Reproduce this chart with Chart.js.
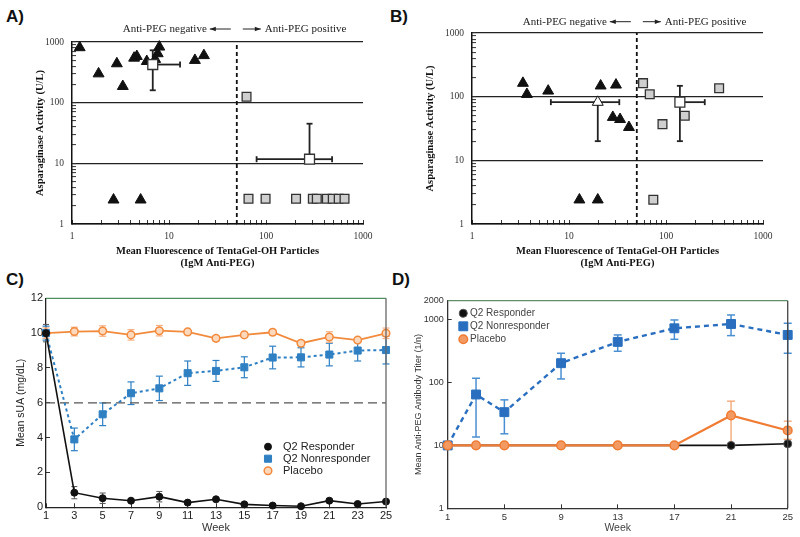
<!DOCTYPE html>
<html>
<head>
<meta charset="utf-8">
<script src="https://cdn.jsdelivr.net/npm/chart.js@4.4.1/dist/chart.umd.min.js"></script>
<style>
body{margin:0;background:#fff;width:800px;height:537px;position:relative;overflow:hidden;}
canvas{position:absolute;}
.lab{position:absolute;font:bold 17px "Liberation Sans",Arial,sans-serif;line-height:17px;color:#111;}
</style>
</head>
<body>
<div class="lab" style="left:6px;top:8px">A)</div>
<div class="lab" style="left:390px;top:8px">B)</div>
<div class="lab" style="left:6px;top:271px">C)</div>
<div class="lab" style="left:392px;top:271px">D)</div>
<canvas id="cA" width="400" height="280" style="left:0;top:0"></canvas>
<canvas id="cB" width="400" height="280" style="left:400px;top:0"></canvas>
<canvas id="cC" width="400" height="257" style="left:0;top:280px"></canvas>
<canvas id="cD" width="400" height="257" style="left:400px;top:280px"></canvas>
<script>
// ---------- data: panels A & B (x = mean fluorescence, y = asparaginase activity) ----------
var cutoff = 50; // anti-PEG positive threshold
var noteNeg = 'Anti-PEG negative';
var notePos = 'Anti-PEG positive';
var logTicksAB = [1, 10, 100, 1000];

var aNegX = [1.2, 1.88, 2.9, 3.34, 4.37, 4.66, 5.9, 7.95, 7.65, 7.2, 18.5, 22.9, 2.68, 5.1];
var aNegY = [810, 300, 440, 186, 545, 580, 480, 830, 645, 520, 500, 600, 2.5, 2.5];
var aPosX = [63, 66, 99, 204, 304, 334, 424, 488, 562, 645];
var aPosY = [125, 2.6, 2.6, 2.6, 2.6, 2.6, 2.6, 2.6, 2.6, 2.6];
var aMeanX = [6.8, 281];
var aMeanY = [425, 11.7];
var aMeanXLo = [null, 80];
var aMeanXHi = [13, 480];
var aMeanYLo = [160, null];
var aMeanYHi = [730, 45];

var bNegX = [3.35, 3.68, 6.1, 21.2, 30.5, 28.3, 33.6, 41.5, 12.8, 19.8];
var bNegY = [163, 109, 123, 148, 153, 47.5, 44, 33, 2.4, 2.4];
var bPosX = [58, 68, 92, 156, 74, 353];
var bPosY = [163, 109, 37, 50, 2.4, 136];
var bNegMeanX = [19.8], bNegMeanY = [82];
var bNegMeanXLo = [6.5], bNegMeanXHi = [33], bNegMeanYLo = [20], bNegMeanYHi = [null];
var bPosMeanX = [139], bPosMeanY = [82];
var bPosMeanXLo = [null], bPosMeanXHi = [251], bPosMeanYLo = [20], bPosMeanYHi = [148];

// ---------- data: panel C (mean sUA by week) ----------
var cWeeks = [1, 3, 5, 7, 9, 11, 13, 15, 17, 19, 21, 23, 25];
var cYTicks = [0, 2, 4, 6, 8, 10, 12];
var cTarget = 6;
var cResp = [10, 0.84, 0.52, 0.38, 0.61, 0.27, 0.46, 0.17, 0.1, 0.06, 0.38, 0.19, 0.33];
var cRespErr = [0.5, 0.35, 0.3, 0.1, 0.3, 0.1, 0.1, 0.05, 0.05, 0.05, 0.1, 0.05, 0.1];
var cNon = [10, 3.9, 5.34, 6.55, 6.83, 7.7, 7.83, 8.04, 8.6, 8.61, 8.77, 9.0, 9.03];
var cNonErr = [0.4, 0.65, 0.65, 0.65, 0.7, 0.7, 0.6, 0.6, 0.65, 0.55, 0.65, 0.6, 0.8];
var cPla = [10, 10.09, 10.12, 9.9, 10.14, 10.07, 9.7, 9.9, 10.05, 9.42, 9.78, 9.6, 9.99];
var cPlaErr = [0.3, 0.25, 0.3, 0.3, 0.3, 0.15, 0.15, 0.15, 0.15, 0.15, 0.3, 0.15, 0.3];

// ---------- data: panel D (anti-PEG titer by week) ----------
var dWeeks = [1, 3, 5, 9, 13, 17, 21, 25];
var dXTicks = [1, 5, 9, 13, 17, 21, 25];
var dYTicks = [1, 10, 100, 1000, 2000];
var dResp = [10, 10, 10, 10, 10, 10, 10, 10.6];
var dNon = [10, 64.5, 33.8, 203, 443, 728, 853, 571];
var dNonLo = [null, 13.6, 15.3, 114, 314, 487, 557, 292];
var dNonHi = [null, 117, 53, 292, 571, 988, 1186, 875];
var dPla = [10, 10, 10, 10, 10, 10, 30, 17.3];
var dPlaLo = [null, null, null, null, null, null, 10, 12.5];
var dPlaHi = [null, null, null, null, null, null, 50.6, 24.3];

var seriesNames = ['Q2 Responder', 'Q2 Nonresponder', 'Placebo'];

// ---------- looks ----------
var serif = '"Liberation Serif", "Times New Roman", serif';
var sans = '"Liberation Sans", Arial, Helvetica, sans-serif';
var blueC = '#2f80c3', orangeC = '#f28a3c';
var blueD = '#2a6fbf', orangeD = '#f07c34';

function pts(xs, ys) { return xs.map(function (x, i) { return {x: x, y: ys[i]}; }); }
function isDecade(v) { var l = Math.log10(v); return Math.abs(l - Math.round(l)) < 1e-9; }
// 1,2,..9,10,20,..90,100,.. up to 1000 : minor tick marks of the log axes
function logMarks() {
  var out = [];
  for (var d = 1; d < 1000; d *= 10) for (var m = 1; m < 10; m++) out.push({value: m * d});
  out.push({value: 1000});
  return out;
}

// error bars drawn through the chart scales, under the markers
var errorBars = {
  id: 'errorBars',
  beforeDatasetsDraw: function (chart) {
    var ctx = chart.ctx, xs = chart.scales.x, ys = chart.scales.y;
    chart.data.datasets.forEach(function (ds) {
      var e = ds.err;
      if (!e) return;
      ctx.save();
      ctx.strokeStyle = e.color;
      ctx.lineWidth = e.width;
      var cap = e.cap;
      function seg(x1, y1, x2, y2) { ctx.beginPath(); ctx.moveTo(x1, y1); ctx.lineTo(x2, y2); ctx.stroke(); }
      ds.data.forEach(function (p, j) {
        var px = xs.getPixelForValue(p.x), py = ys.getPixelForValue(p.y);
        ['yLo', 'yHi'].forEach(function (k) {
          if (e[k] && e[k][j] != null) {
            var y2 = ys.getPixelForValue(e[k][j]);
            seg(px, py, px, y2); seg(px - cap, y2, px + cap, y2);
          }
        });
        ['xLo', 'xHi'].forEach(function (k) {
          if (e[k] && e[k][j] != null) {
            var x2 = xs.getPixelForValue(e[k][j]);
            seg(px, py, x2, py); seg(x2, py - cap, x2, py + cap);
          }
        });
      });
      ctx.restore();
    });
  }
};

// top/right border of the plot box
var frame = {
  id: 'frame',
  afterDatasetsDraw: function (chart, args, o) {
    var a = chart.chartArea, ctx = chart.ctx;
    ctx.save();
    ctx.lineWidth = 1.3;
    ctx.strokeStyle = o.top; ctx.beginPath(); ctx.moveTo(a.left, a.top); ctx.lineTo(a.right, a.top); ctx.stroke();
    ctx.strokeStyle = o.right; ctx.beginPath(); ctx.moveTo(a.right, a.top); ctx.lineTo(a.right, a.bottom); ctx.stroke();
    ctx.restore();
  }
};

// legend inside the plot
var boxLegend = {
  id: 'boxLegend',
  afterDraw: function (chart, args, o) {
    var ctx = chart.ctx, row = 0;
    chart.data.datasets.forEach(function (ds) {
      if (!ds.label) return;
      var y = o.y + row * o.dy;
      row++;
      ctx.save();
      ctx.fillStyle = ds.pointBackgroundColor;
      ctx.strokeStyle = ds.pointBorderColor;
      ctx.lineWidth = ds.pointBorderWidth;
      Chart.helpers.drawPoint(ctx, {pointStyle: ds.pointStyle, radius: ds.pointRadius, rotation: 0, borderWidth: ds.pointBorderWidth}, o.x, y);
      ctx.fillStyle = o.color;
      ctx.font = o.size + 'px ' + sans;
      ctx.textBaseline = 'middle';
      ctx.textAlign = 'left';
      ctx.fillText(ds.label, o.tx, y);
      ctx.restore();
    });
  }
};

// "Anti-PEG negative <-- | --> Anti-PEG positive"
var pegNote = {
  id: 'pegNote',
  afterDraw: function (chart, args, o) {
    var ctx = chart.ctx, cx = chart.scales.x.getPixelForValue(cutoff), y = o.y;
    ctx.save();
    ctx.font = '11px ' + serif;
    ctx.fillStyle = '#222';
    ctx.strokeStyle = '#222';
    ctx.lineWidth = 1;
    ctx.textBaseline = 'middle';
    ctx.textAlign = 'right';
    ctx.fillText(noteNeg, cx - 30, y);
    ctx.textAlign = 'left';
    ctx.fillText(notePos, cx + 28, y);
    function arrow(from, to) {
      var d = to > from ? -1 : 1;
      ctx.beginPath(); ctx.moveTo(from, y); ctx.lineTo(to, y); ctx.stroke();
      ctx.beginPath(); ctx.moveTo(to, y); ctx.lineTo(to + d * 6, y - 2.2); ctx.lineTo(to + d * 6, y + 2.2); ctx.closePath(); ctx.fill();
    }
    arrow(cx - 6, cx - 27);
    arrow(cx + 6, cx + 24);
    ctx.restore();
  }
};

function abScales(padTitle, yWidth) {
  return {
    x: {
      type: 'logarithmic', min: 1, max: 1000,
      afterBuildTicks: function (s) { s.ticks = logMarks(); },
      afterFit: function (s) { s.height = 56; },
      border: {color: '#111', width: 1.5},
      grid: {color: 'rgba(0,0,0,0)', tickColor: '#333', tickLength: -4, tickWidth: 1},
      ticks: {autoSkip: false, maxRotation: 0, padding: 11, color: '#333', font: {family: serif, size: 9.5},
        callback: function (v) { return logTicksAB.indexOf(v) >= 0 ? String(v) : ''; }},
      title: {display: true, text: ['Mean Fluorescence of TentaGel-OH Particles', '(IgM Anti-PEG)'], color: '#111',
        font: {family: serif, size: 10.5, weight: 'bold', lineHeight: 1.2}, padding: {top: 0, bottom: 10}}
    },
    y: {
      type: 'logarithmic', min: 1, max: 1000,
      afterBuildTicks: function (s) { s.ticks = logMarks(); },
      afterFit: function (s) { s.width = yWidth; },
      border: {color: '#111', width: 1.5},
      grid: {color: function (c) { return c.tick && isDecade(c.tick.value) ? '#222' : 'rgba(0,0,0,0)'; },
        tickColor: '#333', tickLength: -4, tickWidth: 1, lineWidth: 1.2},
      ticks: {autoSkip: false, padding: 12, color: '#333', font: {family: serif, size: 9.5},
        callback: function (v) { return logTicksAB.indexOf(v) >= 0 ? String(v) : ''; }},
      title: {display: true, text: 'Asparaginase Activity (U/L)', color: '#111',
        font: {family: serif, size: 10.5, weight: 'bold', lineHeight: 1.2}, padding: {top: padTitle, bottom: 0}}
    }
  };
}

function cutLine() {
  return {data: [{x: cutoff, y: 1}, {x: cutoff, y: 1000}], showLine: true, borderColor: '#111', borderWidth: 1.8,
    borderDash: [4, 3], pointRadius: 0, order: 5};
}
function tri(data, fill, r) {
  return {data: data, pointStyle: 'triangle', pointRadius: r, pointBackgroundColor: fill, pointBorderColor: '#111',
    pointBorderWidth: 1, showLine: false, clip: false};
}
function sq(data, fill, r, extra) {
  var d = {data: data, pointStyle: 'rect', pointRadius: r, pointBackgroundColor: fill, pointBorderColor: '#333',
    pointBorderWidth: 1.3, showLine: false, clip: false};
  if (extra) d.err = extra;
  return d;
}

// ---------- panel A ----------
new Chart(document.getElementById('cA'), {
  type: 'scatter',
  data: {datasets: [
    sq(pts(aMeanX, aMeanY), '#fff', 7, {xLo: aMeanXLo, xHi: aMeanXHi, yLo: aMeanYLo, yHi: aMeanYHi, color: '#222', width: 1.8, cap: 3}),
    tri(pts(aNegX, aNegY), '#111', 6.3),
    sq(pts(aPosX, aPosY), '#cfcfcf', 6.2),
    cutLine()
  ]},
  options: {
    responsive: false, animation: false, events: [],
    layout: {padding: {left: 32, right: 37, top: 42, bottom: 0}},
    plugins: {legend: {display: false}, tooltip: {enabled: false}, pegNote: {y: 29}},
    scales: abScales(2, 40)
  },
  plugins: [errorBars, pegNote]
});

// ---------- panel B ----------
new Chart(document.getElementById('cB'), {
  type: 'scatter',
  data: {datasets: [
    sq(pts(bPosMeanX, bPosMeanY), '#fff', 7, {xLo: bPosMeanXLo, xHi: bPosMeanXHi, yLo: bPosMeanYLo, yHi: bPosMeanYHi, color: '#222', width: 1.8, cap: 3}),
    Object.assign(tri(pts(bNegMeanX, bNegMeanY), '#fff', 6.3), {err: {xLo: bNegMeanXLo, xHi: bNegMeanXHi, yLo: bNegMeanYLo, yHi: bNegMeanYHi, color: '#222', width: 1.8, cap: 3}}),
    tri(pts(bNegX, bNegY), '#111', 6.3),
    sq(pts(bPosX, bPosY), '#cfcfcf', 6.2),
    cutLine()
  ]},
  options: {
    responsive: false, animation: false, events: [],
    layout: {padding: {left: 22, right: 37, top: 33, bottom: 0}},
    plugins: {legend: {display: false}, tooltip: {enabled: false}, pegNote: {y: 21.7}},
    scales: abScales(2, 50)
  },
  plugins: [errorBars, pegNote]
});

// ---------- panel C ----------
function sym(vals, errs, sign) { return vals.map(function (v, i) { return v + sign * errs[i]; }); }
new Chart(document.getElementById('cC'), {
  type: 'scatter',
  data: {datasets: [
    {label: seriesNames[0], data: pts(cWeeks, cResp), showLine: true, borderColor: '#111', borderWidth: 1.6,
      pointStyle: 'circle', pointRadius: 3.5, pointBackgroundColor: '#111', pointBorderColor: '#111', pointBorderWidth: 1, clip: false,
      err: {yLo: sym(cResp, cRespErr, -1), yHi: sym(cResp, cRespErr, 1), color: '#555', width: 1, cap: 3}},
    {label: seriesNames[1], data: pts(cWeeks, cNon), showLine: true, borderColor: blueC, borderWidth: 2, borderDash: [3, 3],
      pointStyle: 'rect', pointRadius: 5, pointBackgroundColor: blueC, pointBorderColor: blueC, pointBorderWidth: 1, clip: false,
      err: {yLo: sym(cNon, cNonErr, -1), yHi: sym(cNon, cNonErr, 1), color: blueC, width: 1.2, cap: 3.5}},
    {label: seriesNames[2], data: pts(cWeeks, cPla), showLine: true, borderColor: orangeC, borderWidth: 1.8,
      pointStyle: 'circle', pointRadius: 3.8, pointBackgroundColor: '#fcd9bd', pointBorderColor: orangeC, pointBorderWidth: 1.5, clip: false,
      err: {yLo: sym(cPla, cPlaErr, -1), yHi: sym(cPla, cPlaErr, 1), color: '#f6b083', width: 1.2, cap: 3.5}},
    {data: [{x: cWeeks[0], y: cTarget}, {x: cWeeks[cWeeks.length - 1], y: cTarget}], showLine: true, borderColor: '#555',
      borderWidth: 1.2, borderDash: [9, 5], pointRadius: 0, order: 5}
  ]},
  options: {
    responsive: false, animation: false, events: [],
    layout: {padding: {left: 14, right: 14, top: 18.3, bottom: 0}},
    plugins: {legend: {display: false}, tooltip: {enabled: false},
      frame: {top: '#4f8f5f', right: '#666'},
      boxLegend: {x: 268, tx: 283, y: 166.7, dy: 12, size: 11, color: '#222'}},
    scales: {
      x: {type: 'linear', min: 1, max: 25,
        afterBuildTicks: function (s) { s.ticks = cWeeks.map(function (v) { return {value: v}; }); },
        afterFit: function (s) { s.height = 29.7; },
        border: {color: '#222', width: 1.3},
        grid: {drawOnChartArea: false, color: '#333', tickLength: -4},
        ticks: {autoSkip: false, maxRotation: 0, padding: 6, color: '#222', font: {family: sans, size: 11}},
        title: {display: true, text: 'Week', color: '#333', font: {family: sans, size: 11, lineHeight: 1.2}, padding: {top: 0, bottom: 2}}},
      y: {min: 0, max: 12,
        afterBuildTicks: function (s) { s.ticks = cYTicks.map(function (v) { return {value: v}; }); },
        afterFit: function (s) { s.width = 32; },
        border: {color: '#222', width: 1.3},
        grid: {drawOnChartArea: false, color: '#333', tickLength: -4},
        ticks: {padding: 7, color: '#222', font: {family: sans, size: 11}},
        title: {display: true, text: 'Mean sUA (mg/dL)', color: '#222', font: {family: sans, size: 10.5, lineHeight: 1.2}, padding: {top: 1, bottom: 0}}}
    }
  },
  plugins: [errorBars, frame, boxLegend]
});

// ---------- panel D ----------
new Chart(document.getElementById('cD'), {
  type: 'scatter',
  data: {datasets: [
    {label: seriesNames[0], data: pts(dWeeks, dResp), showLine: true, borderColor: '#111', borderWidth: 1.6,
      pointStyle: 'circle', pointRadius: 4, pointBackgroundColor: '#111', pointBorderColor: '#555', pointBorderWidth: 1, clip: false, order: 2},
    {label: seriesNames[1], data: pts(dWeeks, dNon), showLine: true, borderColor: blueD, borderWidth: 2.4, borderDash: [5, 4],
      pointStyle: 'rect', pointRadius: 6.3, pointBackgroundColor: blueD, pointBorderColor: blueD, pointBorderWidth: 1, clip: false, order: 1,
      err: {yLo: dNonLo, yHi: dNonHi, color: '#4a8fd2', width: 1.5, cap: 4}},
    {label: seriesNames[2], data: pts(dWeeks, dPla), showLine: true, borderColor: orangeD, borderWidth: 2.2,
      pointStyle: 'circle', pointRadius: 4.3, pointBackgroundColor: '#f39a62', pointBorderColor: orangeD, pointBorderWidth: 1.5, clip: false, order: 0,
      err: {yLo: dPlaLo, yHi: dPlaHi, color: '#f39a62', width: 1.2, cap: 4}}
  ]},
  options: {
    responsive: false, animation: false, events: [],
    layout: {padding: {left: 12, right: 10.7, top: 20.7, bottom: 0}},
    plugins: {legend: {display: false}, tooltip: {enabled: false},
      frame: {top: '#5f8f6a', right: '#444'},
      boxLegend: {x: 63.3, tx: 70, y: 33.3, dy: 13, size: 10, color: '#444'}},
    scales: {
      x: {type: 'linear', min: 1, max: 25,
        afterBuildTicks: function (s) { s.ticks = dXTicks.map(function (v) { return {value: v}; }); },
        afterFit: function (s) { s.height = 28.7; },
        border: {color: '#333', width: 1.3},
        grid: {drawOnChartArea: false, color: '#333', tickLength: -4},
        ticks: {autoSkip: false, maxRotation: 0, padding: 7, color: '#333', font: {family: sans, size: 9.5}},
        title: {display: true, text: 'Week', color: '#444', font: {family: sans, size: 10.5, lineHeight: 1.2}, padding: {top: 0, bottom: 2.4}}},
      y: {type: 'logarithmic', min: 1, max: 2000,
        afterBuildTicks: function (s) { s.ticks = dYTicks.map(function (v) { return {value: v}; }); },
        afterFit: function (s) { s.width = 35.7; },
        border: {color: '#333', width: 1.3},
        grid: {drawOnChartArea: false, color: '#333', tickLength: -4},
        ticks: {padding: 8, color: '#333', font: {family: sans, size: 9},
          callback: function (v) { return String(v); }},
        title: {display: true, text: 'Mean Anti-PEG Antibody Titer (1/n)', color: '#333', font: {family: sans, size: 9, lineHeight: 1.2}, padding: {top: 1.5, bottom: 0}}}
    }
  },
  plugins: [errorBars, frame, boxLegend]
});
</script>
</body>
</html>
